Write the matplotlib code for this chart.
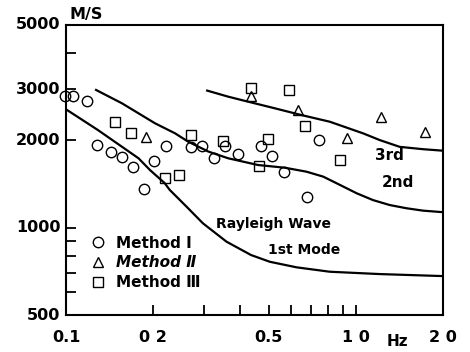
"""
Rayleigh wave dispersion: phase velocity vs frequency, three survey methods
against theoretical 1st/2nd/3rd mode curves.
"""

import matplotlib

matplotlib.use("Agg")

import matplotlib.pyplot as plt
from matplotlib.ticker import FixedLocator, NullLocator

# observed phase velocities (Hz, M/S)
METHOD1_FREQ = [0.099, 0.106, 0.118, 0.128, 0.143, 0.156, 0.170, 0.186, 0.202, 0.221,
                0.270, 0.294, 0.325, 0.355, 0.393, 0.470, 0.515, 0.566, 0.681, 0.746]
METHOD1_VEL = [2840, 2840, 2740, 1930, 1830, 1760, 1615, 1360, 1700, 1920,
               1900, 1910, 1735, 1910, 1795, 1920, 1765, 1560, 1275, 2000]

METHOD2_FREQ = [0.189, 0.435, 0.630, 0.931, 1.226, 1.737]
METHOD2_VEL = [2050, 2840, 2545, 2035, 2415, 2135]

METHOD3_FREQ = [0.148, 0.168, 0.219, 0.245, 0.270, 0.347, 0.435, 0.464, 0.499,
                0.589, 0.667, 0.881]
METHOD3_VEL = [2310, 2125, 1485, 1520, 2085, 1995, 3030, 1630, 2025,
               2995, 2235, 1705]

# theoretical dispersion curves
MODE1_FREQ = [0.100, 0.129, 0.178, 0.195, 0.219, 0.228, 0.261, 0.297, 0.358,
              0.435, 0.505, 0.625, 0.813, 1.210, 2.000]
MODE1_VEL = [2560, 2170, 1735, 1580, 1425, 1350, 1180, 1035, 895,
             805, 763, 730, 705, 692, 681]

MODE2_FREQ = [0.127, 0.156, 0.203, 0.238, 0.264, 0.310, 0.363, 0.460, 0.569,
              0.676, 0.772, 0.881, 1.006, 1.147, 1.310, 1.496, 1.707, 2.000]
MODE2_VEL = [2985, 2685, 2290, 2115, 1980, 1830, 1735, 1645, 1610,
             1560, 1500, 1405, 1315, 1245, 1197, 1167, 1145, 1131]

MODE3_FREQ = [0.307, 0.363, 0.425, 0.526, 0.650, 0.813, 1.060, 1.210, 1.418,
              1.707, 2.000]
MODE3_VEL = [2970, 2830, 2720, 2580, 2445, 2320, 2115, 2005, 1900,
             1865, 1843]

X_TICKS = [0.2, 0.3, 0.4, 0.5, 0.6, 0.7, 0.8, 0.9, 1.0]
X_LABEL_POS = [0.1, 0.2, 0.5, 1.0, 2.0]
X_LABELS = ["0.1", "0 2", "0.5", "1 0", "2 0"]
Y_TICKS = [600, 700, 800, 900, 1000, 2000, 3000, 4000]
Y_LABEL_POS = [500, 1000, 2000, 3000, 5000]
Y_LABELS = ["500", "1000", "2000", "3000", "5000"]

FONT = "DejaVu Sans"


def main() -> None:
    fig, ax = plt.subplots(figsize=(4.7, 3.52), dpi=100)
    fig.subplots_adjust(left=0.1404, right=0.9426, bottom=0.1051, top=0.929)

    ax.set_xscale("log")
    ax.set_yscale("log")
    ax.set_xlim(0.1, 2.0)
    ax.set_ylim(500, 5000)

    for freq, vel in [(MODE1_FREQ, MODE1_VEL), (MODE2_FREQ, MODE2_VEL), (MODE3_FREQ, MODE3_VEL)]:
        ax.plot(freq, vel, color="black", linewidth=1.6, zorder=2)

    marker_kw = dict(linestyle="none", markerfacecolor="none", markeredgecolor="black",
                     markeredgewidth=1.0, clip_on=False, zorder=3)
    ax.plot(METHOD1_FREQ, METHOD1_VEL, marker="o", markersize=7.5, label="Method Ⅰ", **marker_kw)
    ax.plot(METHOD2_FREQ, METHOD2_VEL, marker="^", markersize=7, label="Method Ⅱ", **marker_kw)
    ax.plot(METHOD3_FREQ, METHOD3_VEL, marker="s", markersize=7, label="Method Ⅲ", **marker_kw)

    # ticks: inward marks, labels only at a few positions
    ax.xaxis.set_minor_locator(NullLocator())
    ax.yaxis.set_minor_locator(NullLocator())
    ax.xaxis.set_major_locator(FixedLocator(X_TICKS))
    ax.yaxis.set_major_locator(FixedLocator(Y_TICKS))
    ax.set_xticklabels([])
    ax.set_yticklabels([])
    ax.tick_params(direction="in", length=7, width=1.3)

    for pos, text in zip(X_LABEL_POS, X_LABELS):
        ax.annotate(text, xy=(pos, 0), xycoords=("data", "axes fraction"),
                    xytext=(0, -16), textcoords="offset points", ha="center", va="center",
                    fontsize=11.5, fontweight="bold", family=FONT)
    for pos, text in zip(Y_LABEL_POS, Y_LABELS):
        ax.annotate(text, xy=(0, pos), xycoords=("axes fraction", "data"),
                    xytext=(-4, 0), textcoords="offset points", ha="right", va="center",
                    fontsize=11.5, fontweight="bold", family=FONT)

    for spine in ax.spines.values():
        spine.set_linewidth(1.5)

    fig.text(86.5 / 470, 1 - 15 / 352, "M/S", ha="center", va="center",
             fontsize=11.5, fontweight="bold", family=FONT)
    fig.text(397 / 470, 1 - 341 / 352, "Hz", ha="center", va="center",
             fontsize=11, fontweight="bold", family=FONT)

    ax.text(0.5215, 1030, "Rayleigh Wave", ha="center", va="center",
            fontsize=10, fontweight="bold", family=FONT)
    ax.text(0.6617, 841, "1st Mode", ha="center", va="center",
            fontsize=10, fontweight="bold", family=FONT)
    ax.text(1.396, 1427, "2nd", ha="center", va="center",
            fontsize=11, fontweight="bold", family=FONT)
    ax.text(1.31, 1781, "3rd", ha="center", va="center",
            fontsize=11, fontweight="bold", family=FONT)

    legend = ax.legend(loc="lower left", bbox_to_anchor=(0.04, 0.06), frameon=False,
                       handletextpad=0.6, labelspacing=0.3, handlelength=1.2,
                       borderpad=0, prop={"family": FONT, "weight": "bold", "size": 11})
    legend.get_texts()[1].set_style("italic")

    fig.savefig("out.png", dpi=100)
    plt.close(fig)


if __name__ == "__main__":
    main()
